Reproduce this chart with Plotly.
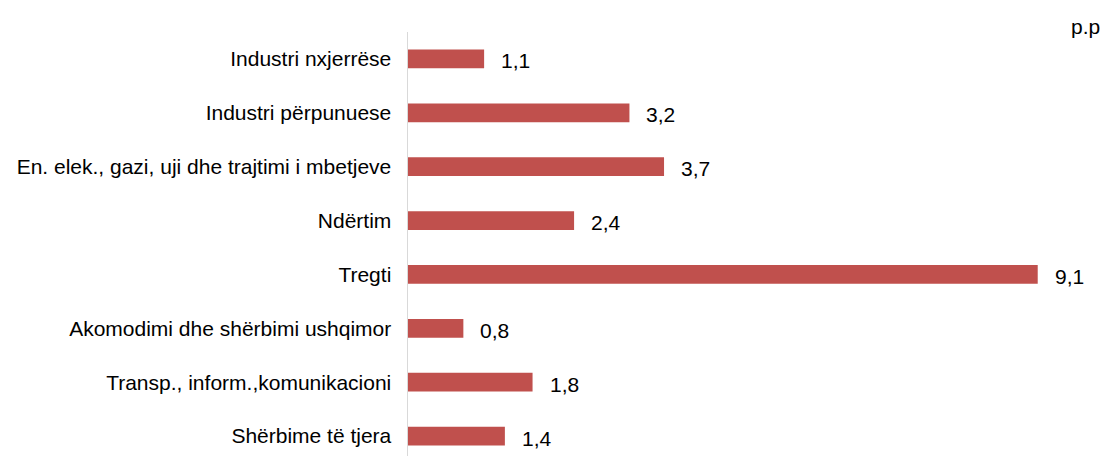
import plotly.graph_objects as go

categories = [
    "Industri nxjerrëse",
    "Industri përpunuese",
    "En. elek., gazi, uji dhe trajtimi i mbetjeve",
    "Ndërtim",
    "Tregti",
    "Akomodimi dhe shërbimi ushqimor",
    "Transp., inform.,komunikacioni",
    "Shërbime të tjera",
]
values = [1.1, 3.2, 3.7, 2.4, 9.1, 0.8, 1.8, 1.4]
value_labels = ["1,1", "3,2", "3,7", "2,4", "9,1", "0,8", "1,8", "1,4"]
unit_label = "p.p"

BAR_COLOR = "#C0504D"
FONT = "Liberation Sans, Arial, sans-serif"
FS = 21

fig = go.Figure()
fig.add_trace(go.Bar(
    x=values,
    y=list(range(len(categories))),
    orientation="h",
    width=0.35,
    marker=dict(color=BAR_COLOR, line=dict(width=0)),
    hoverinfo="skip",
))

for i, (v, lab) in enumerate(zip(values, value_labels)):
    fig.add_annotation(
        x=v, y=i, xref="x", yref="y", text=lab, showarrow=False,
        xanchor="left", yanchor="middle", xshift=15, yshift=-2,
        font=dict(family=FONT, size=FS, color="#000000"),
    )

fig.add_annotation(
    x=1, y=1.012, xref="paper", yref="paper", text=unit_label, showarrow=False,
    xanchor="right", yanchor="middle", xshift=2,
    font=dict(family=FONT, size=FS, color="#000000"),
)

fig.update_layout(
    width=1105, height=456,
    margin=dict(l=408, r=5, t=32, b=0),
    paper_bgcolor="white", plot_bgcolor="white",
    showlegend=False,
    font=dict(family=FONT, size=FS, color="#000000"),
    xaxis=dict(range=[0, 10], showgrid=False, zeroline=False, showline=False,
               showticklabels=False, ticks=""),
    yaxis=dict(range=[7.37, -0.5], tickmode="array",
               tickvals=list(range(len(categories))), ticktext=categories,
               showgrid=False, zeroline=False, showline=True,
               linecolor="#D9D9D9", linewidth=1.5, ticks="",
               ticklabelstandoff=11,
               tickfont=dict(family=FONT, size=FS, color="#000000")),
)

fig.write_html(
    "out.html",
    config={"displayModeBar": False, "staticPlot": True},
    post_script="document.body.style.margin='0';document.body.style.overflow='hidden';",
)
